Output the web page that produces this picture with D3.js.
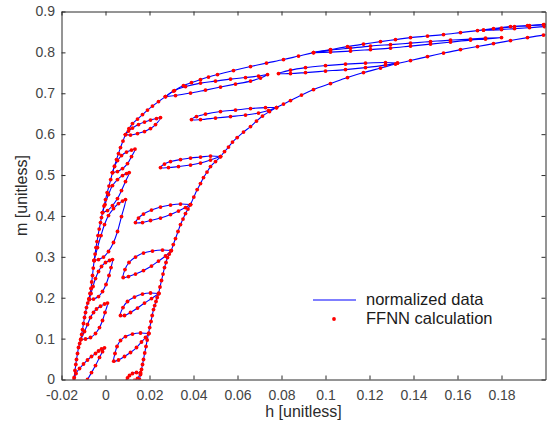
<!DOCTYPE html>
<html>
<head>
<meta charset="utf-8">
<script src="https://cdnjs.cloudflare.com/ajax/libs/d3/7.8.5/d3.min.js"></script>
<style>
body { margin: 0; background: #fff; }
svg { display: block; font-family: "Liberation Sans", Arial, sans-serif; }
</style>
</head>
<body>
<svg id="chart"></svg>
<script>
//tick values and labels
const xTicks = [-0.02, 0, 0.02, 0.04, 0.06, 0.08, 0.1, 0.12, 0.14, 0.16, 0.18];
const xTickLabels = ['-0.02', '0', '0.02', '0.04', '0.06', '0.08', '0.1', '0.12', '0.14', '0.16', '0.18'];
const yTicks = [0, 0.1, 0.2, 0.3, 0.4, 0.5, 0.6, 0.7, 0.8, 0.9];
const yTickLabels = ['0', '0.1', '0.2', '0.3', '0.4', '0.5', '0.6', '0.7', '0.8', '0.9'];
const legendLabels = ['normalized data', 'FFNN calculation'];

//major branches, [h, m]
const majorLeft = [
  [-0.01477, -0.0293], [-0.0145, -0.0122], [-0.01423, 0.0049], [-0.01386, 0.022], [-0.0135, 0.0367],
  [-0.01318, 0.0489], [-0.01273, 0.0636], [-0.01227, 0.0782], [-0.01173, 0.088], [-0.01123, 0.0978],
  [-0.01082, 0.11], [-0.01045, 0.1222], [-0.01, 0.1369], [-0.00955, 0.1516], [-0.00909, 0.1638],
  [-0.00864, 0.176], [-0.00809, 0.187], [-0.0075, 0.198], [-0.00705, 0.2103], [-0.00659, 0.2225],
  [-0.00627, 0.2384], [-0.00591, 0.2543], [-0.00555, 0.2726], [-0.00514, 0.291], [-0.00473, 0.3068],
  [-0.00432, 0.3227], [-0.00386, 0.3374], [-0.00341, 0.3521], [-0.00286, 0.368], [-0.00227, 0.3839],
  [-0.00182, 0.3961], [-0.00136, 0.4083], [-0.00068, 0.4242], [0, 0.4401], [0.00077, 0.4572],
  [0.00159, 0.4731], [0.00236, 0.489], [0.00318, 0.5061], [0.00409, 0.522], [0.005, 0.5379],
  [0.00591, 0.5526], [0.00682, 0.5672], [0.00795, 0.5831], [0.00909, 0.599], [0.01068, 0.6137],
  [0.01227, 0.6259], [0.01455, 0.6369], [0.01682, 0.6479], [0.01909, 0.6589], [0.02136, 0.6687],
  [0.02409, 0.6797], [0.02727, 0.6919], [0.03136, 0.7066], [0.03545, 0.7188], [0.03909, 0.7262],
  [0.04318, 0.7335], [0.04682, 0.7396], [0.05091, 0.7457], [0.05818, 0.7555], [0.06591, 0.7653],
  [0.07318, 0.7738], [0.08091, 0.7824], [0.08773, 0.791], [0.09455, 0.7995], [0.10227, 0.8068],
  [0.11, 0.8142], [0.11727, 0.8203], [0.125, 0.8264], [0.13182, 0.8313], [0.13864, 0.8362],
  [0.14636, 0.8399], [0.15364, 0.8435], [0.16136, 0.8484], [0.16909, 0.8533], [0.17636, 0.8582],
  [0.18409, 0.8631], [0.19182, 0.8655], [0.19909, 0.868], [0.20455, 0.8704]
];

const majorRight = [
  [0.015, -0.022], [0.01523, -0.011], [0.01545, 0], [0.01591, 0.0122], [0.01636, 0.0244],
  [0.01682, 0.0367], [0.01727, 0.0489], [0.01782, 0.0648], [0.01841, 0.0807], [0.01895, 0.0966],
  [0.01955, 0.1125], [0.02009, 0.1271], [0.02068, 0.1418], [0.02123, 0.1565], [0.02182, 0.1711],
  [0.02236, 0.1809], [0.02295, 0.1907], [0.0235, 0.2005], [0.02409, 0.2103], [0.02477, 0.2262],
  [0.02545, 0.2421], [0.02614, 0.2579], [0.02682, 0.2738], [0.0275, 0.2861], [0.02818, 0.2983],
  [0.029, 0.3068], [0.02986, 0.3154], [0.03082, 0.3301], [0.03182, 0.3447], [0.03295, 0.3619],
  [0.03409, 0.379], [0.03523, 0.3924], [0.03636, 0.4059], [0.0375, 0.4169], [0.03864, 0.4279],
  [0.04014, 0.4462], [0.04168, 0.4645], [0.04318, 0.4792], [0.04455, 0.4939], [0.04614, 0.5073],
  [0.04773, 0.5208], [0.05, 0.533], [0.05227, 0.5452], [0.05409, 0.5575], [0.05591, 0.5685],
  [0.05773, 0.5807], [0.05986, 0.5917], [0.06273, 0.6051], [0.06591, 0.6186], [0.06864, 0.632],
  [0.07136, 0.6443], [0.07455, 0.6553], [0.07773, 0.665], [0.08091, 0.6736], [0.08409, 0.6822],
  [0.08909, 0.6956], [0.09455, 0.709], [0.10227, 0.7237], [0.11, 0.7384], [0.11727, 0.7506],
  [0.125, 0.7616], [0.13182, 0.7714], [0.13864, 0.78], [0.14636, 0.7897], [0.15364, 0.7983],
  [0.16136, 0.8068], [0.16909, 0.8142], [0.17636, 0.8215], [0.18409, 0.8289], [0.19182, 0.8362],
  [0.19909, 0.8423], [0.20455, 0.846]
];

//minor loops starting on the left branch
const loopL0 = [[-0.01486, -0.029], [-0.01136, -0.022], [-0.00909, -0.007], [-0.00818, 0], [-0.00636, 0.017], [-0.00455, 0.034], [-0.00273, 0.054], [-0.00136, 0.068], [-0.00045, 0.0775],
  [-0.00182, 0.0746], [-0.00318, 0.0697], [-0.00455, 0.0636], [-0.00636, 0.0562], [-0.00818, 0.0477], [-0.01, 0.0379], [-0.01182, 0.0269], [-0.01341, 0.0147], [-0.01432, 0], [-0.01486, -0.029]];
const loopL1 = [[-0.01123, 0.0978], [-0.00909, 0.099], [-0.00682, 0.1027], [-0.00455, 0.1125], [-0.00273, 0.1271], [-0.00136, 0.1443], [-0.00023, 0.1638], [0.00091, 0.187],
  [-0.00045, 0.1846], [-0.00227, 0.1792], [-0.00409, 0.1724], [-0.00545, 0.1638], [-0.00682, 0.1516], [-0.00818, 0.1345], [-0.00955, 0.1174], [-0.01123, 0.0978]];
const loopL2 = [[-0.00741, 0.1956], [-0.00545, 0.1968], [-0.00318, 0.2029], [-0.00136, 0.2152], [0.00023, 0.2323], [0.00159, 0.2543], [0.0025, 0.2738], [0.00318, 0.2934],
  [0.00182, 0.291], [0, 0.2861], [-0.00182, 0.2763], [-0.00318, 0.2641], [-0.00455, 0.2469], [-0.00568, 0.2274], [-0.00659, 0.2103], [-0.00741, 0.1956]];
const loopL3 = [[-0.00514, 0.291], [-0.00318, 0.2934], [-0.00091, 0.2995], [0.00136, 0.313], [0.00364, 0.335], [0.00545, 0.3619], [0.00727, 0.3985], [0.00909, 0.4401],
  [0.00773, 0.4364], [0.00591, 0.4303], [0.00364, 0.4181], [0.00136, 0.401], [-0.00045, 0.379], [-0.00205, 0.3521], [-0.00364, 0.3227], [-0.00514, 0.291]];
const loopL4 = [[-0.00136, 0.4083], [0.00091, 0.4132], [0.00318, 0.4254], [0.00545, 0.4425], [0.00727, 0.4621], [0.00909, 0.4841], [0.01077, 0.5061],
  [0.00955, 0.5037], [0.00773, 0.4988], [0.00545, 0.489], [0.00318, 0.4743], [0.00136, 0.4523], [-0.00023, 0.4279], [-0.00136, 0.4083]];
const loopL5 = [[0.00318, 0.5061], [0.00545, 0.5086], [0.00773, 0.5159], [0.01, 0.5281], [0.01182, 0.5452], [0.01341, 0.5636],
  [0.01182, 0.5611], [0.00955, 0.5562], [0.00727, 0.5477], [0.00545, 0.5354], [0.00409, 0.5208], [0.00318, 0.5061]];
const loopL6 = [[0.00909, 0.599], [0.01136, 0.5978], [0.01455, 0.6015], [0.01773, 0.6064], [0.02045, 0.6137], [0.02273, 0.6235], [0.025, 0.6406],
  [0.02318, 0.6381], [0.02045, 0.6345], [0.01773, 0.6296], [0.015, 0.6235], [0.01227, 0.6149], [0.01045, 0.6076], [0.00909, 0.599]];
const loopL7 = [[0.02727, 0.6919], [0.03182, 0.6944], [0.03864, 0.7005], [0.04545, 0.7078], [0.05227, 0.7152], [0.05909, 0.7225], [0.06591, 0.7298], [0.07045, 0.7372], [0.07364, 0.7457],
  [0.06955, 0.7421], [0.06364, 0.7384], [0.05682, 0.7347], [0.05, 0.7298], [0.04318, 0.7249], [0.03636, 0.7164], [0.03091, 0.7054], [0.02727, 0.6919]];
const loopL8 = [[0.09455, 0.7995], [0.10227, 0.8007], [0.11136, 0.8032], [0.12045, 0.8068], [0.12955, 0.8105], [0.13864, 0.8154], [0.14773, 0.8203], [0.15682, 0.8252], [0.16591, 0.8301], [0.17273, 0.8325], [0.18, 0.8362],
  [0.17273, 0.835], [0.16591, 0.8325], [0.15682, 0.8301], [0.14773, 0.8264], [0.13864, 0.8227], [0.12955, 0.8191], [0.12045, 0.8154], [0.11136, 0.8105], [0.10227, 0.8056], [0.09455, 0.7995]];
const loopL9 = [[0.17182, 0.8545], [0.18, 0.8557], [0.18591, 0.8582], [0.19273, 0.8606], [0.19955, 0.8631], [0.20682, 0.8667],
  [0.19955, 0.868], [0.19273, 0.8655], [0.18591, 0.8631], [0.18, 0.8594], [0.17182, 0.8545]];

//minor loops starting on the right branch
const loopR0 = [[0.01591, 0.0159], [0.01409, 0.0171], [0.01227, 0.0147], [0.01091, 0.0098], [0.01, 0.0037], [0.00955, -0.0037],
  [0.01136, -0.0049], [0.01318, -0.0024], [0.01455, 0.0024], [0.01591, 0.0159]];
const loopR1 = [[0.01968, 0.1125], [0.01591, 0.1137], [0.01227, 0.1112], [0.00909, 0.1051], [0.00682, 0.0954], [0.00523, 0.0807], [0.00432, 0.0636], [0.00377, 0.0447],
  [0.00591, 0.0477], [0.00864, 0.0562], [0.01136, 0.066], [0.01409, 0.0782], [0.01636, 0.0917], [0.01818, 0.1027], [0.01968, 0.1125]];
const loopR2 = [[0.02423, 0.2103], [0.02045, 0.2115], [0.01682, 0.209], [0.01318, 0.2017], [0.01, 0.1907], [0.00795, 0.176], [0.00682, 0.1565],
  [0.00864, 0.1565], [0.01136, 0.1638], [0.01455, 0.1748], [0.01773, 0.187], [0.02091, 0.198], [0.02423, 0.2103]];
const loopR3 = [[0.02986, 0.3154], [0.02591, 0.3166], [0.02136, 0.3142], [0.01727, 0.3093], [0.01364, 0.2995], [0.01068, 0.2861], [0.00886, 0.2689], [0.00805, 0.2494],
  [0.01045, 0.2518], [0.01364, 0.2579], [0.01727, 0.2665], [0.02091, 0.2775], [0.02409, 0.2897], [0.02727, 0.302], [0.02986, 0.3154]];
const loopR4 = [[0.03864, 0.4279], [0.03409, 0.4291], [0.02955, 0.4267], [0.025, 0.4218], [0.02091, 0.4144], [0.01727, 0.4046], [0.015, 0.3949], [0.01364, 0.3839],
  [0.01682, 0.3839], [0.02045, 0.3888], [0.025, 0.3949], [0.02955, 0.4034], [0.03318, 0.412], [0.03636, 0.4205], [0.03864, 0.4279]];
const loopR5 = [[0.05227, 0.5452], [0.04773, 0.5465], [0.04318, 0.544], [0.03864, 0.5416], [0.03409, 0.5379], [0.02955, 0.533], [0.02682, 0.5269], [0.025, 0.5183],
  [0.02864, 0.5183], [0.03318, 0.5208], [0.03864, 0.5244], [0.04318, 0.5293], [0.04773, 0.5367], [0.05227, 0.5452]];
const loopR6 = [[0.07773, 0.665], [0.07273, 0.665], [0.06591, 0.6626], [0.05909, 0.6589], [0.05227, 0.6553], [0.04545, 0.6491], [0.04136, 0.643], [0.03909, 0.6357],
  [0.04318, 0.6357], [0.05, 0.6394], [0.05682, 0.643], [0.06364, 0.6467], [0.06955, 0.6516], [0.07409, 0.6577], [0.07773, 0.665]];
const loopR7 = [[0.13273, 0.7738], [0.12727, 0.7751], [0.11818, 0.7738], [0.10909, 0.7714], [0.1, 0.7677], [0.09091, 0.7628], [0.08409, 0.7567], [0.07864, 0.7482],
  [0.08409, 0.7482], [0.09091, 0.7506], [0.1, 0.7543], [0.10909, 0.7579], [0.11818, 0.7628], [0.12727, 0.7689], [0.13273, 0.7738]];

//canvas and plot box
const w = 549;
const h = 427;
const box = { left: 61.5, right: 545.5, top: 11.5, bottom: 379.5 };
const axisColor = '#2b2b2b';

const svg = d3.select('#chart')
    .attr('width', w)
    .attr('height', h);

const xScale = d3.scaleLinear()
    .domain([-0.02, 0.2])
    .range([box.left, box.right]);

const yScale = d3.scaleLinear()
    .domain([0, 0.9])
    .range([box.bottom, box.top]);

svg.append('clipPath')
    .attr('id', 'plot-clip')
    .append('rect')
    .attr('x', box.left)
    .attr('y', box.top)
    .attr('width', box.right - box.left)
    .attr('height', box.bottom - box.top);

const curves = [majorLeft, majorRight,
    loopL0, loopL1, loopL2, loopL3, loopL4, loopL5, loopL6, loopL7, loopL8, loopL9,
    loopR0, loopR1, loopR2, loopR3, loopR4, loopR5, loopR6, loopR7];

const line = d3.line()
    .x(d => xScale(d[0]))
    .y(d => yScale(d[1]))
    .curve(d3.curveCatmullRom.alpha(0.5));

const plot = svg.append('g')
    .attr('clip-path', 'url(#plot-clip)');

//blue measured curves
plot.selectAll('path.data')
    .data(curves)
    .enter()
    .append('path')
    .attr('class', 'data')
    .attr('d', line)
    .attr('fill', 'none')
    .attr('stroke', '#0000ff')
    .attr('stroke-width', 1.1);

//red network points on top
plot.selectAll('circle.ffnn')
    .data(curves.flat())
    .enter()
    .append('circle')
    .attr('class', 'ffnn')
    .attr('cx', d => xScale(d[0]))
    .attr('cy', d => yScale(d[1]))
    .attr('r', 1.9)
    .attr('fill', '#ff0000');

//axes, ticks point inward on all four sides
function styleAxis(g) {
    g.attr('color', axisColor)
        .attr('font-size', 14)
        .attr('font-family', '"Liberation Sans", Arial, sans-serif');
    g.selectAll('text').attr('fill', '#444');
}

svg.append('g')
    .attr('transform', 'translate(0,' + box.bottom + ')')
    .call(d3.axisBottom(xScale).tickValues(xTicks).tickFormat((d, i) => xTickLabels[i])
        .tickSizeInner(-4).tickSizeOuter(0).tickPadding(10.5))
    .call(styleAxis);

svg.append('g')
    .attr('transform', 'translate(0,' + box.top + ')')
    .call(d3.axisTop(xScale).tickValues(xTicks).tickFormat('')
        .tickSizeInner(-4).tickSizeOuter(0))
    .call(styleAxis);

svg.append('g')
    .attr('transform', 'translate(' + box.left + ',0)')
    .call(d3.axisLeft(yScale).tickValues(yTicks).tickFormat((d, i) => yTickLabels[i])
        .tickSizeInner(-4).tickSizeOuter(0).tickPadding(6.5))
    .call(styleAxis);

svg.append('g')
    .attr('transform', 'translate(' + box.right + ',0)')
    .call(d3.axisRight(yScale).tickValues(yTicks).tickFormat('')
        .tickSizeInner(-4).tickSizeOuter(0))
    .call(styleAxis);

//axis titles
svg.append('text')
    .attr('x', (box.left + box.right) / 2)
    .attr('y', 417)
    .attr('text-anchor', 'middle')
    .attr('font-size', 16)
    .attr('fill', '#2b2b2b')
    .text('h [unitless]');

svg.append('text')
    .attr('transform', 'translate(27,' + ((box.top + box.bottom) / 2) + ') rotate(-90)')
    .attr('text-anchor', 'middle')
    .attr('font-size', 16)
    .attr('fill', '#2b2b2b')
    .text('m [unitless]');

//legend, no box
const legend = svg.append('g').attr('id', 'legend');

legend.append('line')
    .attr('x1', 313)
    .attr('x2', 356)
    .attr('y1', 300)
    .attr('y2', 300)
    .attr('stroke', '#0000ff')
    .attr('stroke-width', 1.1);

legend.append('circle')
    .attr('cx', 334)
    .attr('cy', 319)
    .attr('r', 1.9)
    .attr('fill', '#ff0000');

legend.selectAll('text')
    .data(legendLabels)
    .enter()
    .append('text')
    .attr('x', 366)
    .attr('y', (d, i) => 305 + i * 19)
    .attr('font-size', 16.5)
    .attr('fill', '#1a1a1a')
    .text(d => d);
</script>
</body>
</html>
